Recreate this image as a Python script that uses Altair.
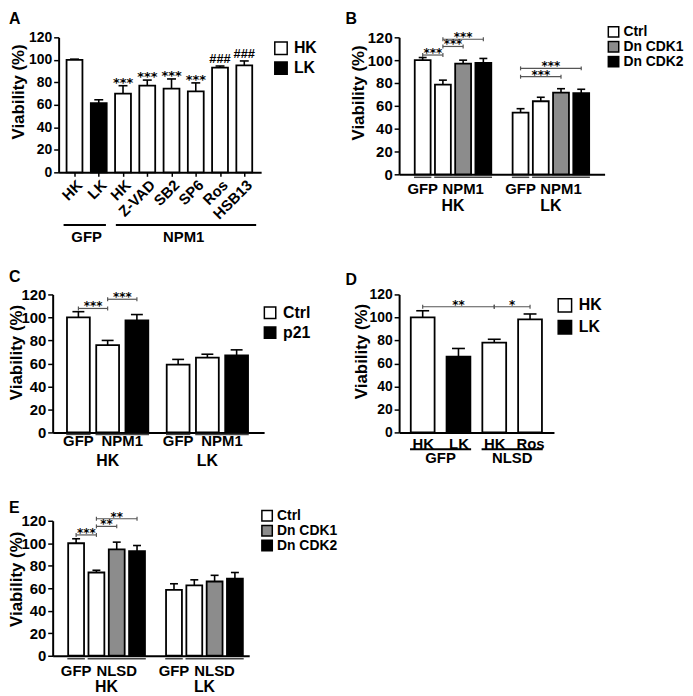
import json
import altair as alt
import pandas as pd

FONT = "Liberation Sans"
STAR_FONT = "DejaVu Sans"
Y_TICKS = [0, 20, 40, 60, 80, 100, 120]
FILL = {"HK": "white", "LK": "black", "Ctrl": "white", "Dn CDK1": "#8c8c8c",
        "Dn CDK2": "black", "p21": "black"}
TITLE = "Viability (%)"

# ---------------- Panel A ----------------
A_LABELS = ["HK", "LK", "HK", "Z-VAD", "SB2", "SP6", "Ros", "HSB13"]
A_COND = ["HK", "LK", "HK", "HK", "HK", "HK", "HK", "HK"]
A_MEAN = [100, 61.5, 70, 77, 74.5, 72, 93, 95]
A_SEM = [0.6, 3.0, 7.0, 5.0, 8.5, 7.5, 1.5, 4.0]
A_SIG = ["", "", "***", "***", "***", "***", "###", "###"]
A_GROUPS = ["GFP", "NPM1"]
A_GROUP_SIZES = [2, 6]
A_LEGEND = ["HK", "LK"]

# ---------------- Panel B ----------------
B_COND = ["Ctrl", "Ctrl", "Dn CDK1", "Dn CDK2", "Ctrl", "Ctrl", "Dn CDK1", "Dn CDK2"]
B_MEAN = [100, 78.5, 97, 97.5, 54, 64, 71.5, 71]
B_SEM = [2.3, 4.0, 3.0, 4.0, 3.5, 3.5, 3.5, 3.5]
B_SUBGROUPS = ["GFP", "NPM1"]
B_SUBGROUP_SIZES = [1, 3]
B_GROUPS = ["HK", "LK"]
B_LEGEND = ["Ctrl", "Dn CDK1", "Dn CDK2"]
B_BRACKETS = [(0, 1, "***", 104.5), (1, 2, "***", 112.0), (1, 3, "***", 118.3),
              (4, 6, "***", 85.5), (4, 7, "***", 92.8)]

# ---------------- Panel C ----------------
C_COND = ["Ctrl", "Ctrl", "p21", "Ctrl", "Ctrl", "p21"]
C_MEAN = [100, 76, 97.5, 59, 65, 67]
C_SEM = [5.0, 4.0, 5.0, 4.5, 3.0, 4.8]
C_SUBGROUPS = ["GFP", "NPM1"]
C_SUBGROUP_SIZES = [1, 2]
C_GROUPS = ["HK", "LK"]
C_LEGEND = ["Ctrl", "p21"]
C_BRACKETS = [(0, 1, "***", 107.8), (1, 2, "***", 115.8)]

# ---------------- Panel D ----------------
D_LABELS = ["HK", "LK", "HK", "Ros"]
D_COND = ["HK", "LK", "HK", "HK"]
D_MEAN = [100, 66, 78, 98.3]
D_SEM = [5.8, 7.0, 3.0, 4.7]
D_GROUPS = ["GFP", "NLSD"]
D_GROUP_SIZES = [2, 2]
D_LEGEND = ["HK", "LK"]
D_BRACKETS = [(0, 2, "**", 109.3), (2, 3, "*", 109.3)]

# ---------------- Panel E ----------------
E_COND = ["Ctrl", "Ctrl", "Dn CDK1", "Dn CDK2", "Ctrl", "Ctrl", "Dn CDK1", "Dn CDK2"]
E_MEAN = [100, 74, 94.5, 93, 58.5, 62.5, 66, 68.5]
E_SEM = [4.0, 2.0, 6.5, 5.0, 5.5, 5.0, 5.5, 5.5]
E_SUBGROUPS = ["GFP", "NLSD"]
E_SUBGROUP_SIZES = [1, 3]
E_GROUPS = ["HK", "LK"]
E_LEGEND = ["Ctrl", "Dn CDK1", "Dn CDK2"]
E_BRACKETS = [(0, 1, "***", 107.4), (1, 2, "**", 115.0), (1, 3, "**", 121.8)]


def grouped_positions(n_groups, per_group, gap):
    return [g * (per_group + gap) + j for g in range(n_groups) for j in range(per_group)]


def fixed_text(text, x, y, size, angle=0, align="left", baseline="alphabetic"):
    kw = dict(font=FONT, fontSize=size, fontWeight="bold", color="black",
              align=align, baseline=baseline)
    if angle:
        kw["angle"] = angle
    return alt.Chart(pd.DataFrame({"t": [text]})).mark_text(**kw).encode(
        x=alt.value(x), y=alt.value(y), text="t:N")


class Panel:
    def __init__(self, pos, cond, mean, sem, xdom, width, height, x0=0, cell_h=None,
                 x_labels=None, label_angle=0, label_size=14, x_ticks=False, label_pad=2,
                 y_label_size=15):
        self.x0 = x0
        self.width = width
        self.height = height
        self.cell_w = x0 + width
        self.cell_h = cell_h or height
        self.xs = alt.Scale(domain=xdom, range=[x0, x0 + width], nice=False, zero=False)
        self.ys = alt.Scale(domain=[0, 120], range=[height, 0], nice=False)
        self.xdom = xdom
        self.pos = pos
        df = pd.DataFrame({"pos": pos, "cond": cond, "mean": mean, "sem": sem})
        df["top"] = df["mean"] + df["sem"]
        self.df = df
        self.layers = []
        self.y_axis = alt.Axis(values=Y_TICKS, title=None, grid=False, domainColor="black",
                               domainWidth=2, tickColor="black", tickWidth=1.5, tickSize=5,
                               labelPadding=2, labelFont=FONT, labelFontSize=y_label_size,
                               labelFontWeight="bold", labelColor="black", offset=-x0)
        xkw = dict(title=None, grid=False, domainColor="black", domainWidth=2,
                   offset=-(self.cell_h - height))
        if x_labels:
            xkw.update(values=list(range(len(x_labels))),
                       labelExpr=json.dumps(x_labels) + "[round(datum.value)]",
                       labelFont=FONT, labelFontSize=label_size, labelFontWeight="bold",
                       labelColor="black", labelOverlap=False, labelFlush=False,
                       labelPadding=label_pad, ticks=x_ticks)
            if label_angle:
                xkw["labelAngle"] = label_angle
            if x_ticks:
                xkw.update(tickColor="black", tickWidth=1.5, tickSize=4)
        else:
            xkw.update(labels=False, ticks=False)
        self.x_axis = alt.Axis(**xkw)

    def X(self, f):
        return alt.X(f, scale=self.xs, axis=self.x_axis)

    def Y(self, f):
        return alt.Y(f, scale=self.ys, axis=self.y_axis)

    def bars(self, legend_items, bar_px, cap_px, legend_cfg):
        lx, ly, side, row_h, lfs, loff = legend_cfg
        legend = alt.Legend(orient="none", legendX=lx + self.x0, legendY=ly, title=None,
                            symbolType="square", symbolSize=side * side,
                            symbolStrokeColor="black", symbolStrokeWidth=1.5,
                            labelFont=FONT, labelFontSize=lfs, labelFontWeight="bold",
                            labelColor="black", labelOffset=loff, rowPadding=0,
                            clipHeight=row_h, padding=0)
        fill_scale = alt.Scale(domain=legend_items, range=[FILL[k] for k in legend_items])
        base = alt.Chart(self.df)
        bars = base.mark_bar(orient="vertical", size=bar_px, stroke="black",
                             strokeWidth=1.8).encode(
            x=self.X("pos:Q"),
            y=alt.Y("mean:Q", scale=self.ys, axis=self.y_axis, stack=False),
            fill=alt.Fill("cond:N", scale=fill_scale, legend=legend))
        err = base.mark_rule(color="black", strokeWidth=1.6).encode(
            x=self.X("pos:Q"), y=self.Y("mean:Q"), y2="top:Q")
        cap = base.mark_rule(color="black", strokeWidth=1.6, xOffset=-cap_px,
                             x2Offset=cap_px).encode(
            x=self.X("pos:Q"), x2="pos:Q", y=self.Y("top:Q"))
        self.layers += [bars, err, cap]

    def brackets(self, brk, star_size=12):
        rows = [{"x1": self.pos[a], "x2": self.pos[b], "y": h,
                 "xm": (self.pos[a] + self.pos[b]) / 2, "txt": t} for a, b, t, h in brk]
        d = alt.Chart(pd.DataFrame(rows))
        line = d.mark_rule(color="#555", strokeWidth=1.2).encode(
            x=self.X("x1:Q"), x2="x2:Q", y=self.Y("y:Q"))
        end1 = d.mark_rule(color="#555", strokeWidth=1.2, yOffset=-2, y2Offset=2).encode(
            x=self.X("x1:Q"), y=self.Y("y:Q"), y2="y:Q")
        end2 = d.mark_rule(color="#555", strokeWidth=1.2, yOffset=-2, y2Offset=2).encode(
            x=self.X("x2:Q"), y=self.Y("y:Q"), y2="y:Q")
        txt = d.mark_text(font=STAR_FONT, fontSize=star_size, fontWeight="bold",
                          baseline="alphabetic", dy=2, color="black").encode(
            x=self.X("xm:Q"), y=self.Y("y:Q"), text="txt:N")
        self.layers += [line, end1, end2, txt]

    def group_labels(self, names, sizes, y_px, size=15, line_dy=None, bar_px=0,
                     color="#444", width=1.5):
        rows, start = [], 0
        for name, n in zip(names, sizes):
            idx = list(range(start, start + n))
            rows.append({"x1": self.pos[idx[0]], "x2": self.pos[idx[-1]],
                         "xm": sum(self.pos[i] for i in idx) / n, "name": name})
            start += n
        d = alt.Chart(pd.DataFrame(rows))
        if line_dy is not None:
            self.layers.append(d.mark_rule(color=color, strokeWidth=width, xOffset=-bar_px / 2,
                                           x2Offset=bar_px / 2).encode(
                x=self.X("x1:Q"), x2="x2:Q", y=alt.value(self.height + line_dy)))
        self.layers.append(d.mark_text(font=FONT, fontSize=size, fontWeight="bold",
                                       color="black", baseline="middle").encode(
            x=self.X("xm:Q"), y=alt.value(self.height + y_px), text="name:N"))

    def decorate(self, letter, letter_x, title_x, letter_y=-13, title_dy=-13):
        self.layers.append(fixed_text(letter, letter_x + self.x0, letter_y, 16))
        self.layers.append(fixed_text(TITLE, title_x + self.x0, self.height / 2 + title_dy, 17,
                                      angle=270, align="center", baseline="middle"))

    def chart(self):
        return alt.layer(*self.layers).properties(width=self.cell_w, height=self.cell_h)


ROW1_H = 170

# ----- A -----
A_POS = list(range(len(A_MEAN)))
pa = Panel(A_POS, A_COND, A_MEAN, A_SEM, [-0.45, 7.49], 204, 136, x0=6, cell_h=ROW1_H,
           x_labels=A_LABELS, label_angle=-45, label_size=15, x_ticks=True, label_pad=1,
           y_label_size=14)
pa.bars(A_LEGEND, 16, 4.5, (216, 1, 12.5, 20, 16, 5))
a_df = pa.df.assign(sig=A_SIG)
pa.layers.append(alt.Chart(a_df[a_df.sig == "***"]).mark_text(
    font=STAR_FONT, fontSize=13, fontWeight="bold", baseline="alphabetic", dy=1,
    color="black").encode(x=pa.X("pos:Q"), y=pa.Y("top:Q"), text="sig:N"))
pa.layers.append(alt.Chart(a_df[a_df.sig == "###"]).mark_text(
    font=FONT, fontSize=13, fontWeight="bold", baseline="alphabetic", dy=-3,
    color="black").encode(x=pa.X("pos:Q"), y=pa.Y("top:Q"), text="sig:N"))
split = A_GROUP_SIZES[0] - 0.5
a_lines = alt.Chart(pd.DataFrame({"a": [pa.xdom[0]], "b": [split]}))
pa.layers.append(a_lines.mark_rule(color="black", strokeWidth=2, x2Offset=-5).encode(
    x=pa.X("a:Q"), x2="b:Q", y=alt.value(136 + 53)))
a_lines2 = alt.Chart(pd.DataFrame({"a": [split], "b": [pa.xdom[1]]}))
pa.layers.append(a_lines2.mark_rule(color="black", strokeWidth=2, xOffset=5).encode(
    x=pa.X("a:Q"), x2="b:Q", y=alt.value(136 + 53)))
pa.group_labels(A_GROUPS, A_GROUP_SIZES, 65)
pa.decorate("A", -50, -40)

# ----- B -----
B_POS = grouped_positions(2, 4, 0.84)
pb = Panel(B_POS, B_COND, B_MEAN, B_SEM, [-0.92, 8.75], 207, 138, cell_h=ROW1_H)
pb.bars(B_LEGEND, 16, 4, (209, -12, 10.5, 13, 14, 3))
pb.brackets(B_BRACKETS)
pb.group_labels(B_SUBGROUPS * 2, B_SUBGROUP_SIZES * 2, 15, line_dy=3, bar_px=17.5)
pb.group_labels(B_GROUPS, [4, 4], 32, size=16)
pb.decorate("B", -54, -40)

# ----- C -----
C_POS = grouped_positions(2, 3, 0.41)
pc = Panel(C_POS, C_COND, C_MEAN, C_SEM, [-0.71, 6.18], 213, 139)
pc.bars(C_LEGEND, 23, 6, (211, 8.75, 11.5, 19.5, 16, 5))
pc.brackets(C_BRACKETS)
pc.group_labels(C_SUBGROUPS * 2, C_SUBGROUP_SIZES * 2, 9, line_dy=2, bar_px=24.5)
pc.group_labels(C_GROUPS, [3, 3], 29, size=16)
pc.decorate("C", -44, -35.5, title_dy=-11)

# ----- D -----
D_POS = list(range(len(D_MEAN)))
pd_ = Panel(D_POS, D_COND, D_MEAN, D_SEM, [-0.52, 3.53], 156, 139,
            x_labels=D_LABELS, label_size=15, x_ticks=False, label_pad=4, y_label_size=14)
pd_.bars(D_LEGEND, 24, 6.5, (159, 0, 13.5, 22, 16, 6))
pd_.brackets(D_BRACKETS)
pd_.group_labels(D_GROUPS, D_GROUP_SIZES, 26, line_dy=17, bar_px=25.5, color="black",
                 width=2)
pd_.decorate("D", -54, -37, letter_y=-10, title_dy=-12)

# ----- E -----
E_POS = grouped_positions(2, 4, 0.82)
pe = Panel(E_POS, E_COND, E_MEAN, E_SEM, [-0.91, 8.28], 198, 136)
pe.bars(E_LEGEND, 16, 4, (209, -12.5, 10.5, 15, 14, 3))
pe.brackets(E_BRACKETS)
pe.group_labels(E_SUBGROUPS * 2, E_SUBGROUP_SIZES * 2, 15, line_dy=3, bar_px=17.7)
pe.group_labels(E_GROUPS, [4, 4], 31, size=16)
pe.decorate("E", -44, -35.5, letter_y=-8, title_dy=-9)

chart = alt.concat(
    pa.chart(), pb.chart(), pc.chart(), pd_.chart(), pe.chart(),
    columns=2, bounds="flush", spacing={"row": 89, "column": 136},
).resolve_scale(fill="independent").properties(padding=0).configure_view(
    stroke="transparent")

chart.save("out.html", embed_options={"renderer": "svg", "actions": False})
